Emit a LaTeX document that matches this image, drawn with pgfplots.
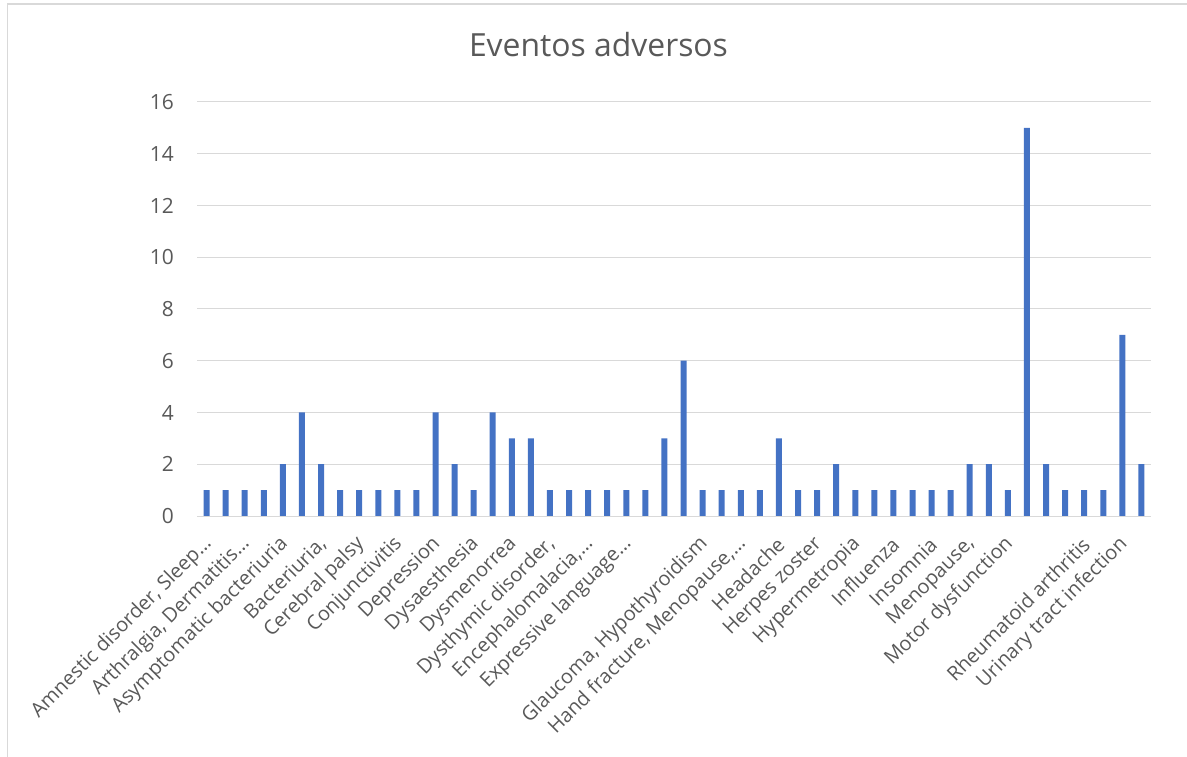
\documentclass[border=0pt]{standalone}
\usepackage{fontspec}
\setmainfont{Open Sans}
\usepackage{pgfplots}
\pgfplotsset{compat=1.18}
\definecolor{barblue}{HTML}{4472C4}
\definecolor{txtgray}{HTML}{595959}
\definecolor{gridgray}{HTML}{D9D9D9}
\begin{document}
\begin{tikzpicture}
\useasboundingbox (0,0) rectangle (1187bp,757bp);
\draw[gridgray, line width=1.5bp] (7.5bp,0) -- (7.5bp,753bp) -- (1187bp,753bp);
\node[anchor=base, text=txtgray, font=\fontsize{32}{38}\selectfont, inner sep=0pt] at (598.5bp,700bp) {Eventos adversos};
\begin{axis}[
  at={(197bp,241bp)}, anchor=south west,
  width=954bp, height=414bp, scale only axis,
  xmin=-0.5, xmax=49.5, ymin=0, ymax=16,
  ytick={0,2,...,16},
  xtick={0,2,...,48},
  xticklabels={{Amnestic disorder, Sleep…},{Arthralgia, Dermatitis…},{Asymptomatic bacteriuria},{Bacteriuria,},{Cerebral palsy},{Conjunctivitis},{Depression},{Dysaesthesia},{Dysmenorrea},{Dysthymic disorder,},{Encephalomalacia,…},{Expressive language…},{},{Glaucoma, Hypothyroidism},{Hand fracture, Menopause,…},{Headache},{Herpes zoster},{Hypermetropia},{Influenza},{Insomnia},{Menopause,},{Motor dysfunction},{},{Rheumatoid arthritis},{Urinary tract infection}},
  major tick length=0pt,
  axis line style={draw=none},
  ymajorgrids, grid style={gridgray, line width=1bp},
  /pgf/number format/assume math mode=true,
  yticklabel style={anchor=east, inner sep=0pt, xshift=-23bp, text=txtgray, font=\fontsize{21}{25}\selectfont},
  xticklabel style={yshift=-25bp, xshift=2bp, rotate=45, anchor=east, inner sep=0pt, text=txtgray, font=\fontsize{20}{24}\selectfont},
]
\addplot[ybar, bar width=6bp, fill=barblue, draw=none] coordinates {
(0,1) (1,1) (2,1) (3,1) (4,2) (5,4) (6,2) (7,1) (8,1) (9,1)
(10,1) (11,1) (12,4) (13,2) (14,1) (15,4) (16,3) (17,3) (18,1) (19,1)
(20,1) (21,1) (22,1) (23,1) (24,3) (25,6) (26,1) (27,1) (28,1) (29,1)
(30,3) (31,1) (32,1) (33,2) (34,1) (35,1) (36,1) (37,1) (38,1) (39,1)
(40,2) (41,2) (42,1) (43,15) (44,2) (45,1) (46,1) (47,1) (48,7) (49,2)
};
\end{axis}
\end{tikzpicture}
\end{document}
